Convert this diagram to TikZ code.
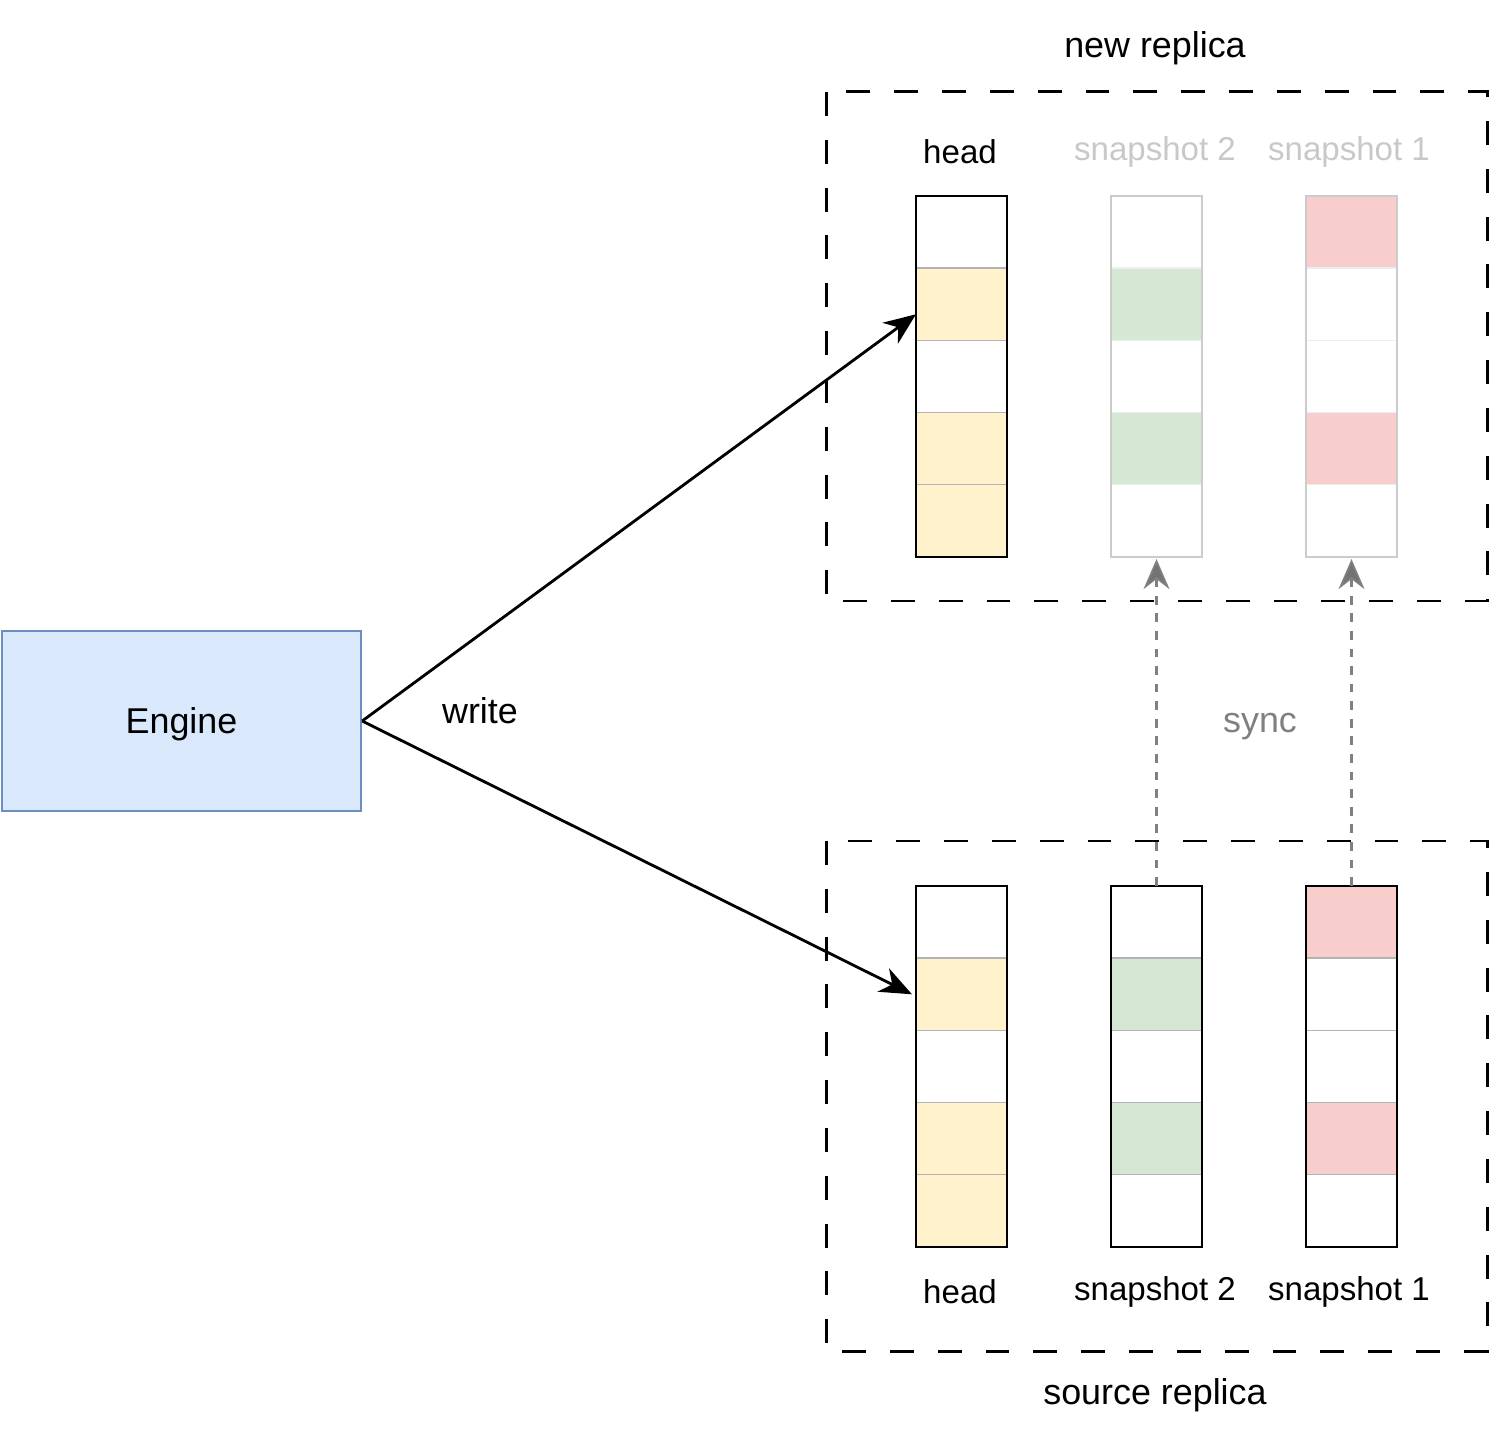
\documentclass[tikz,border=0pt]{standalone}
\usepackage{fontspec}
\setmainfont{Liberation Sans}
\usetikzlibrary{arrows.meta}

\definecolor{engfill}{HTML}{DAE8FC}
\definecolor{engline}{HTML}{6C8EBF}
\definecolor{yel}{HTML}{FFF2CC}
\definecolor{grn}{HTML}{D5E8D4}
\definecolor{rd}{HTML}{F8CECC}
\definecolor{cellline}{HTML}{B3B3B3}
\definecolor{fadeline}{HTML}{CCCCCC}
\definecolor{fadecell}{HTML}{EEEEEE}
\definecolor{fadetext}{HTML}{C8C8C8}
\definecolor{syncgray}{HTML}{808080}

\tikzset{
	cell/.style={draw=cellline, line width=0.4pt, minimum width=0.91cm, minimum height=0.722cm, inner sep=0pt, outer sep=0pt},
	fadecellst/.style={cell, draw=fadecell},
	colbox/.style={draw=black, line width=0.6pt, minimum width=0.91cm, minimum height=3.61cm, inner sep=0pt, outer sep=0pt},
	fadebox/.style={colbox, draw=fadeline},
	collbl/.style={font=\fontsize{9.4}{11}\selectfont},
	replica/.style={draw=black, line width=0.85pt, dash pattern=on 6.8pt off 6.8pt},
	writearrow/.style={-{Stealth[length=0.32cm, width=0.26cm, inset=0.1cm]}, line width=0.8pt},
	syncarrow/.style={-{Stealth[length=0.3cm, width=0.26cm, inset=0.1cm, fill=black!55, line width=0.5pt]}, draw=syncgray, line width=0.7pt, dash pattern=on 2.5pt off 2.5pt},
}

\begin{document}
\begin{tikzpicture}[x=0.01cm, y=-0.01cm, font=\fontsize{10.2}{12}\selectfont]
	\useasboundingbox (0,0) rectangle (1491,1437);

	% engine
	\node[draw=engline, fill=engfill, line width=0.6pt, minimum width=3.59cm, minimum height=1.8cm, inner sep=0pt] (engine) at (181.5,721) {};
	\node (englbl) at (181.5,724) {Engine};

	% replicas
	\draw[replica] (826,92) rectangle (1487,601);
	\draw[replica] (826,841) rectangle (1487,1351);
	\node (newlbl) at (1155,48) {new replica};
	\node (srclbl) at (1155,1395) {source replica};

	% new replica columns
	\foreach \c [count=\i] in {white,yel,white,yel,yel}
		\node[cell, fill=\c] (nh\i) at (961.5,{196+72.2*\i-36.1}) {};
	\node[colbox] (nh) at (961.5,376.5) {};
	\foreach \c [count=\i] in {white,grn,white,grn,white}
		\node[fadecellst, fill=\c] (ns\i) at (1156.5,{196+72.2*\i-36.1}) {};
	\node[fadebox] (ns) at (1156.5,376.5) {};
	\foreach \c [count=\i] in {rd,white,white,rd,white}
		\node[fadecellst, fill=\c] (nt\i) at (1351.5,{196+72.2*\i-36.1}) {};
	\node[fadebox] (nt) at (1351.5,376.5) {};
	\node[collbl] (nhlbl) at (960,152) {head};
	\node[collbl, text=fadetext] (nslbl) at (1155,152) {snapshot 2};
	\node[collbl, text=fadetext] (ntlbl) at (1349,152) {snapshot 1};

	% source replica columns
	\foreach \c [count=\i] in {white,yel,white,yel,yel}
		\node[cell, fill=\c] (sh\i) at (961.5,{886+72.2*\i-36.1}) {};
	\node[colbox] (sh) at (961.5,1066.5) {};
	\foreach \c [count=\i] in {white,grn,white,grn,white}
		\node[cell, fill=\c] (ss\i) at (1156.5,{886+72.2*\i-36.1}) {};
	\node[colbox] (ss) at (1156.5,1066.5) {};
	\foreach \c [count=\i] in {rd,white,white,rd,white}
		\node[cell, fill=\c] (st\i) at (1351.5,{886+72.2*\i-36.1}) {};
	\node[colbox] (st) at (1351.5,1066.5) {};
	\node[collbl] (shlbl) at (960,1292) {head};
	\node[collbl] (sslbl) at (1155,1292) {snapshot 2};
	\node[collbl] (stlbl) at (1349,1292) {snapshot 1};

	% write
	\draw[writearrow] (engine.east) -- ([yshift=-0.1cm]nh2.west);
	\draw[writearrow] (engine.east) -- ([xshift=-0.04cm]sh2.west);
	\node (writelbl) at (480,711) {write};

	% sync
	\draw[syncarrow] (ss.north) -- ([yshift=-0.02cm]ns.south);
	\draw[syncarrow] (st.north) -- ([yshift=-0.02cm]nt.south);
	\node[text=syncgray] (synclbl) at (1260,727) {sync};
\end{tikzpicture}
\end{document}
